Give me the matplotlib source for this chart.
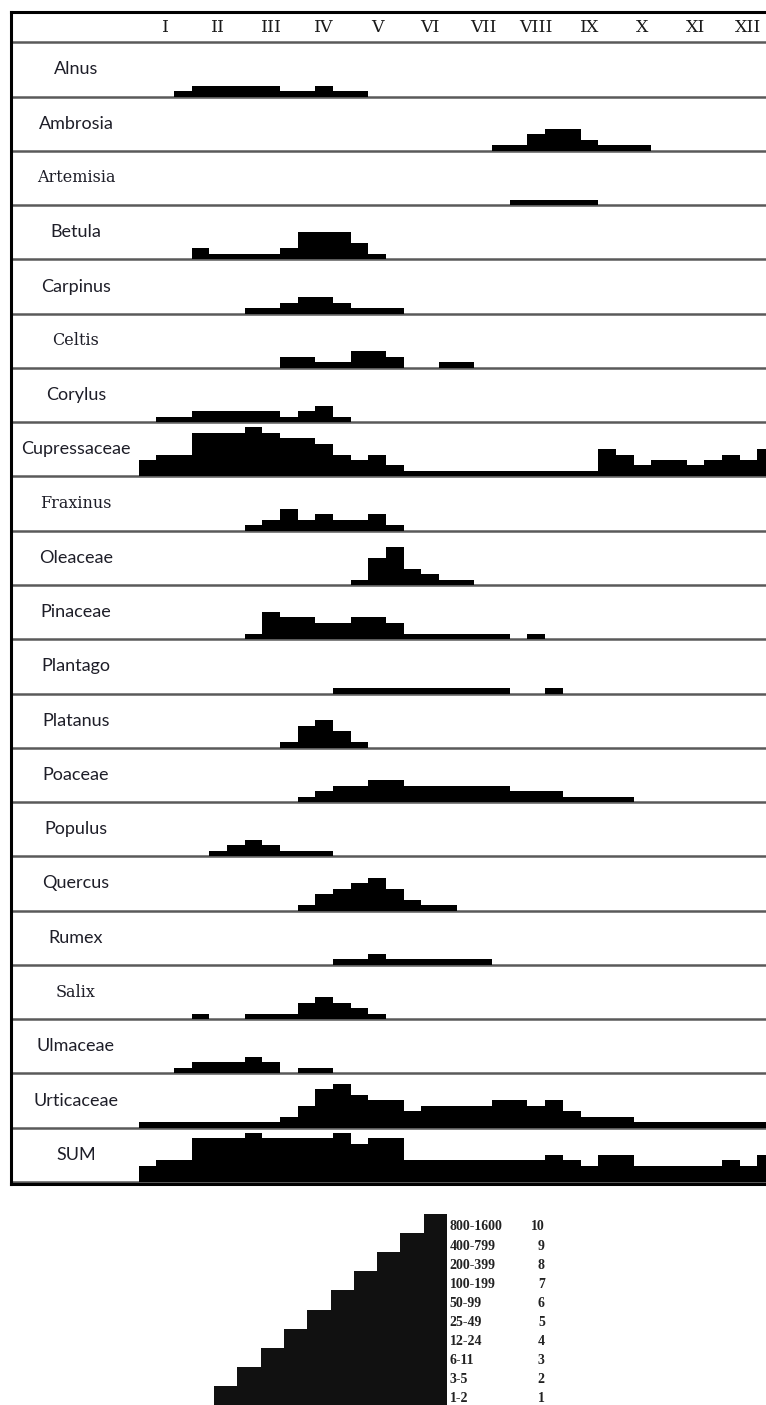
import matplotlib
matplotlib.use("Agg")
import matplotlib.pyplot as plt
import numpy as np

# Pollen calendar: classes per 10-day period (36 decades, Jan..Dec)
TAXA = ["Alnus", "Ambrosia", "Artemisia", "Betula", "Carpinus", "Celtis", "Corylus",
        "Cupressaceae", "Fraxinus", "Oleaceae", "Pinaceae", "Plantago", "Platanus",
        "Poaceae", "Populus", "Quercus", "Rumex", "Salix", "Ulmaceae", "Urticaceae", "SUM"]
SERIF_TAXA = ["Artemisia", "Celtis", "Fraxinus", "Salix"]

MONTHS = ["I", "II", "III", "IV", "V", "VI", "VII", "VIII", "IX", "X", "XI", "XII"]

alnus        = [0,0,1,2,2,2,2,2,1,1,2,1,1,0,0,0,0,0,0,0,0,0,0,0,0,0,0,0,0,0,0,0,0,0,0,0]
ambrosia     = [0,0,0,0,0,0,0,0,0,0,0,0,0,0,0,0,0,0,0,0,1,1,3,4,4,2,1,1,1,0,0,0,0,0,0,0]
artemisia    = [0,0,0,0,0,0,0,0,0,0,0,0,0,0,0,0,0,0,0,0,0,1,1,1,1,1,0,0,0,0,0,0,0,0,0,0]
betula       = [0,0,0,2,1,1,1,1,2,5,5,5,3,1,0,0,0,0,0,0,0,0,0,0,0,0,0,0,0,0,0,0,0,0,0,0]
carpinus     = [0,0,0,0,0,0,1,1,2,3,3,2,1,1,1,0,0,0,0,0,0,0,0,0,0,0,0,0,0,0,0,0,0,0,0,0]
celtis       = [0,0,0,0,0,0,0,0,2,2,1,1,3,3,2,0,0,1,1,0,0,0,0,0,0,0,0,0,0,0,0,0,0,0,0,0]
corylus      = [0,1,1,2,2,2,2,2,1,2,3,1,0,0,0,0,0,0,0,0,0,0,0,0,0,0,0,0,0,0,0,0,0,0,0,0]
cupressaceae = [3,4,4,8,8,8,9,8,7,7,6,4,3,4,2,1,1,1,1,1,1,1,1,1,1,1,5,4,2,3,3,2,3,4,3,5]
fraxinus     = [0,0,0,0,0,0,1,2,4,2,3,2,2,3,1,0,0,0,0,0,0,0,0,0,0,0,0,0,0,0,0,0,0,0,0,0]
oleaceae     = [0,0,0,0,0,0,0,0,0,0,0,0,1,5,7,3,2,1,1,0,0,0,0,0,0,0,0,0,0,0,0,0,0,0,0,0]
pinaceae     = [0,0,0,0,0,0,1,5,4,4,3,3,4,4,3,1,1,1,1,1,1,0,1,0,0,0,0,0,0,0,0,0,0,0,0,0]
plantago     = [0,0,0,0,0,0,0,0,0,0,0,1,1,1,1,1,1,1,1,1,1,0,0,1,0,0,0,0,0,0,0,0,0,0,0,0]
platanus     = [0,0,0,0,0,0,0,0,1,4,5,3,1,0,0,0,0,0,0,0,0,0,0,0,0,0,0,0,0,0,0,0,0,0,0,0]
poaceae      = [0,0,0,0,0,0,0,0,0,1,2,3,3,4,4,3,3,3,3,3,3,2,2,2,1,1,1,1,0,0,0,0,0,0,0,0]
populus      = [0,0,0,0,1,2,3,2,1,1,1,0,0,0,0,0,0,0,0,0,0,0,0,0,0,0,0,0,0,0,0,0,0,0,0,0]
quercus      = [0,0,0,0,0,0,0,0,0,1,3,4,5,6,4,2,1,1,0,0,0,0,0,0,0,0,0,0,0,0,0,0,0,0,0,0]
rumex        = [0,0,0,0,0,0,0,0,0,0,0,1,1,2,1,1,1,1,1,1,0,0,0,0,0,0,0,0,0,0,0,0,0,0,0,0]
salix        = [0,0,0,1,0,0,1,1,1,3,4,3,2,1,0,0,0,0,0,0,0,0,0,0,0,0,0,0,0,0,0,0,0,0,0,0]
ulmaceae     = [0,0,1,2,2,2,3,2,0,1,1,0,0,0,0,0,0,0,0,0,0,0,0,0,0,0,0,0,0,0,0,0,0,0,0,0]
urticaceae   = [1,1,1,1,1,1,1,1,2,4,7,8,6,5,5,3,4,4,4,4,5,5,4,5,3,2,2,2,1,1,1,1,1,1,1,1]
total        = [3,4,4,8,8,8,9,8,8,8,8,9,7,8,8,4,4,4,4,4,4,4,4,5,4,3,5,5,3,3,3,3,3,4,3,5]

SERIES = [alnus, ambrosia, artemisia, betula, carpinus, celtis, corylus, cupressaceae,
          fraxinus, oleaceae, pinaceae, plantago, platanus, poaceae, populus, quercus,
          rumex, salix, ulmaceae, urticaceae, total]

# legend: pollen grains / m3 per class
LEGEND_RANGES = ["1-2", "3-5", "6-11", "12-24", "25-49", "50-99",
                 "100-199", "200-399", "400-799", "800-1600"]
LEGEND_CLASSES = [1, 2, 3, 4, 5, 6, 7, 8, 9, 10]

# Layout (pixels)
W, H = 766, 1405
FRAME_L, FRAME_T = 11, 12
HEAD_B = 42.3
ROW_H = 54.27
X0 = 138.5          # start of January
DEC = 17.68         # width of one 10-day period
X_END = X0 + 36 * DEC
LABEL_X = 76
YTOP = 9.9

def fx(px):
    return px / W

def fy(px):
    return 1 - px / H

fig = plt.figure(figsize=(W / 100, H / 100), dpi=100)
xlim = (-(X0 - FRAME_L) / DEC, 36)
line_col = "#5a5a5a"

# header with month labels
hax = fig.add_axes([fx(FRAME_L), fy(HEAD_B), (X_END - FRAME_L) / W, (HEAD_B - FRAME_T) / H])
hax.set_xlim(*xlim)
hax.set_ylim(0, 1)
hax.axis("off")
hax.axhline(0, color=line_col, lw=1.8, clip_on=False)
for m, name in enumerate(MONTHS):
    hax.text(3 * m + 1.5, 0.5, name, ha="center", va="center",
             fontsize=12.5, family="DejaVu Serif", color="#1a1a1a")

# one strip per taxon
for i, (name, vals) in enumerate(zip(TAXA, SERIES)):
    top = HEAD_B + i * ROW_H
    ax = fig.add_axes([fx(FRAME_L), fy(top + ROW_H), (X_END - FRAME_L) / W, ROW_H / H])
    ax.set_xlim(*xlim)
    ax.set_ylim(0, YTOP)
    ax.axis("off")
    ax.axhline(0, color=line_col, lw=1.8, zorder=1, clip_on=False)
    ax.stairs(vals, np.arange(37), baseline=0, fill=True, color="black", zorder=2)
    if name in SERIF_TAXA:
        fam, fs = "DejaVu Serif", 11.5
    else:
        fam, fs = "Lato", 13
    fig.text(fx(LABEL_X), fy(top + ROW_H / 2), name, ha="center", va="center",
             fontsize=fs, family=fam, color="#1e1e28")

# outer frame
frame = fig.add_axes([fx(FRAME_L), fy(1183.5), (X_END + 20 - FRAME_L) / W, (1183.5 - FRAME_T) / H])
frame.set_xticks([])
frame.set_yticks([])
frame.patch.set_visible(False)
for side in ["left", "top", "bottom", "right"]:
    frame.spines[side].set_linewidth(2.2)
    frame.spines[side].set_color("black")
frame.set_zorder(10)

# class legend (staircase)
STEP_W = 23.3
STEP_H = 19.1
LEG_L = 214
lax = fig.add_axes([fx(LEG_L), 0, 10 * STEP_W / W, 10 * STEP_H / H])
lax.set_xlim(0, 10)
lax.set_ylim(0, 10)
lax.axis("off")
lax.bar(np.arange(len(LEGEND_CLASSES)), LEGEND_CLASSES, width=1, align="edge",
        color="#111111")
for rng, cls in zip(LEGEND_RANGES, LEGEND_CLASSES):
    lax.text(10.12, cls - 0.68, rng, ha="left", va="center", fontsize=10,
             family="Liberation Serif", weight="bold", color="#222222", clip_on=False)
    lax.text(14.2, cls - 0.68, str(cls), ha="right", va="center", fontsize=10,
             family="Liberation Serif", weight="bold", color="#222222", clip_on=False)

fig.savefig("out.png", dpi=100)
